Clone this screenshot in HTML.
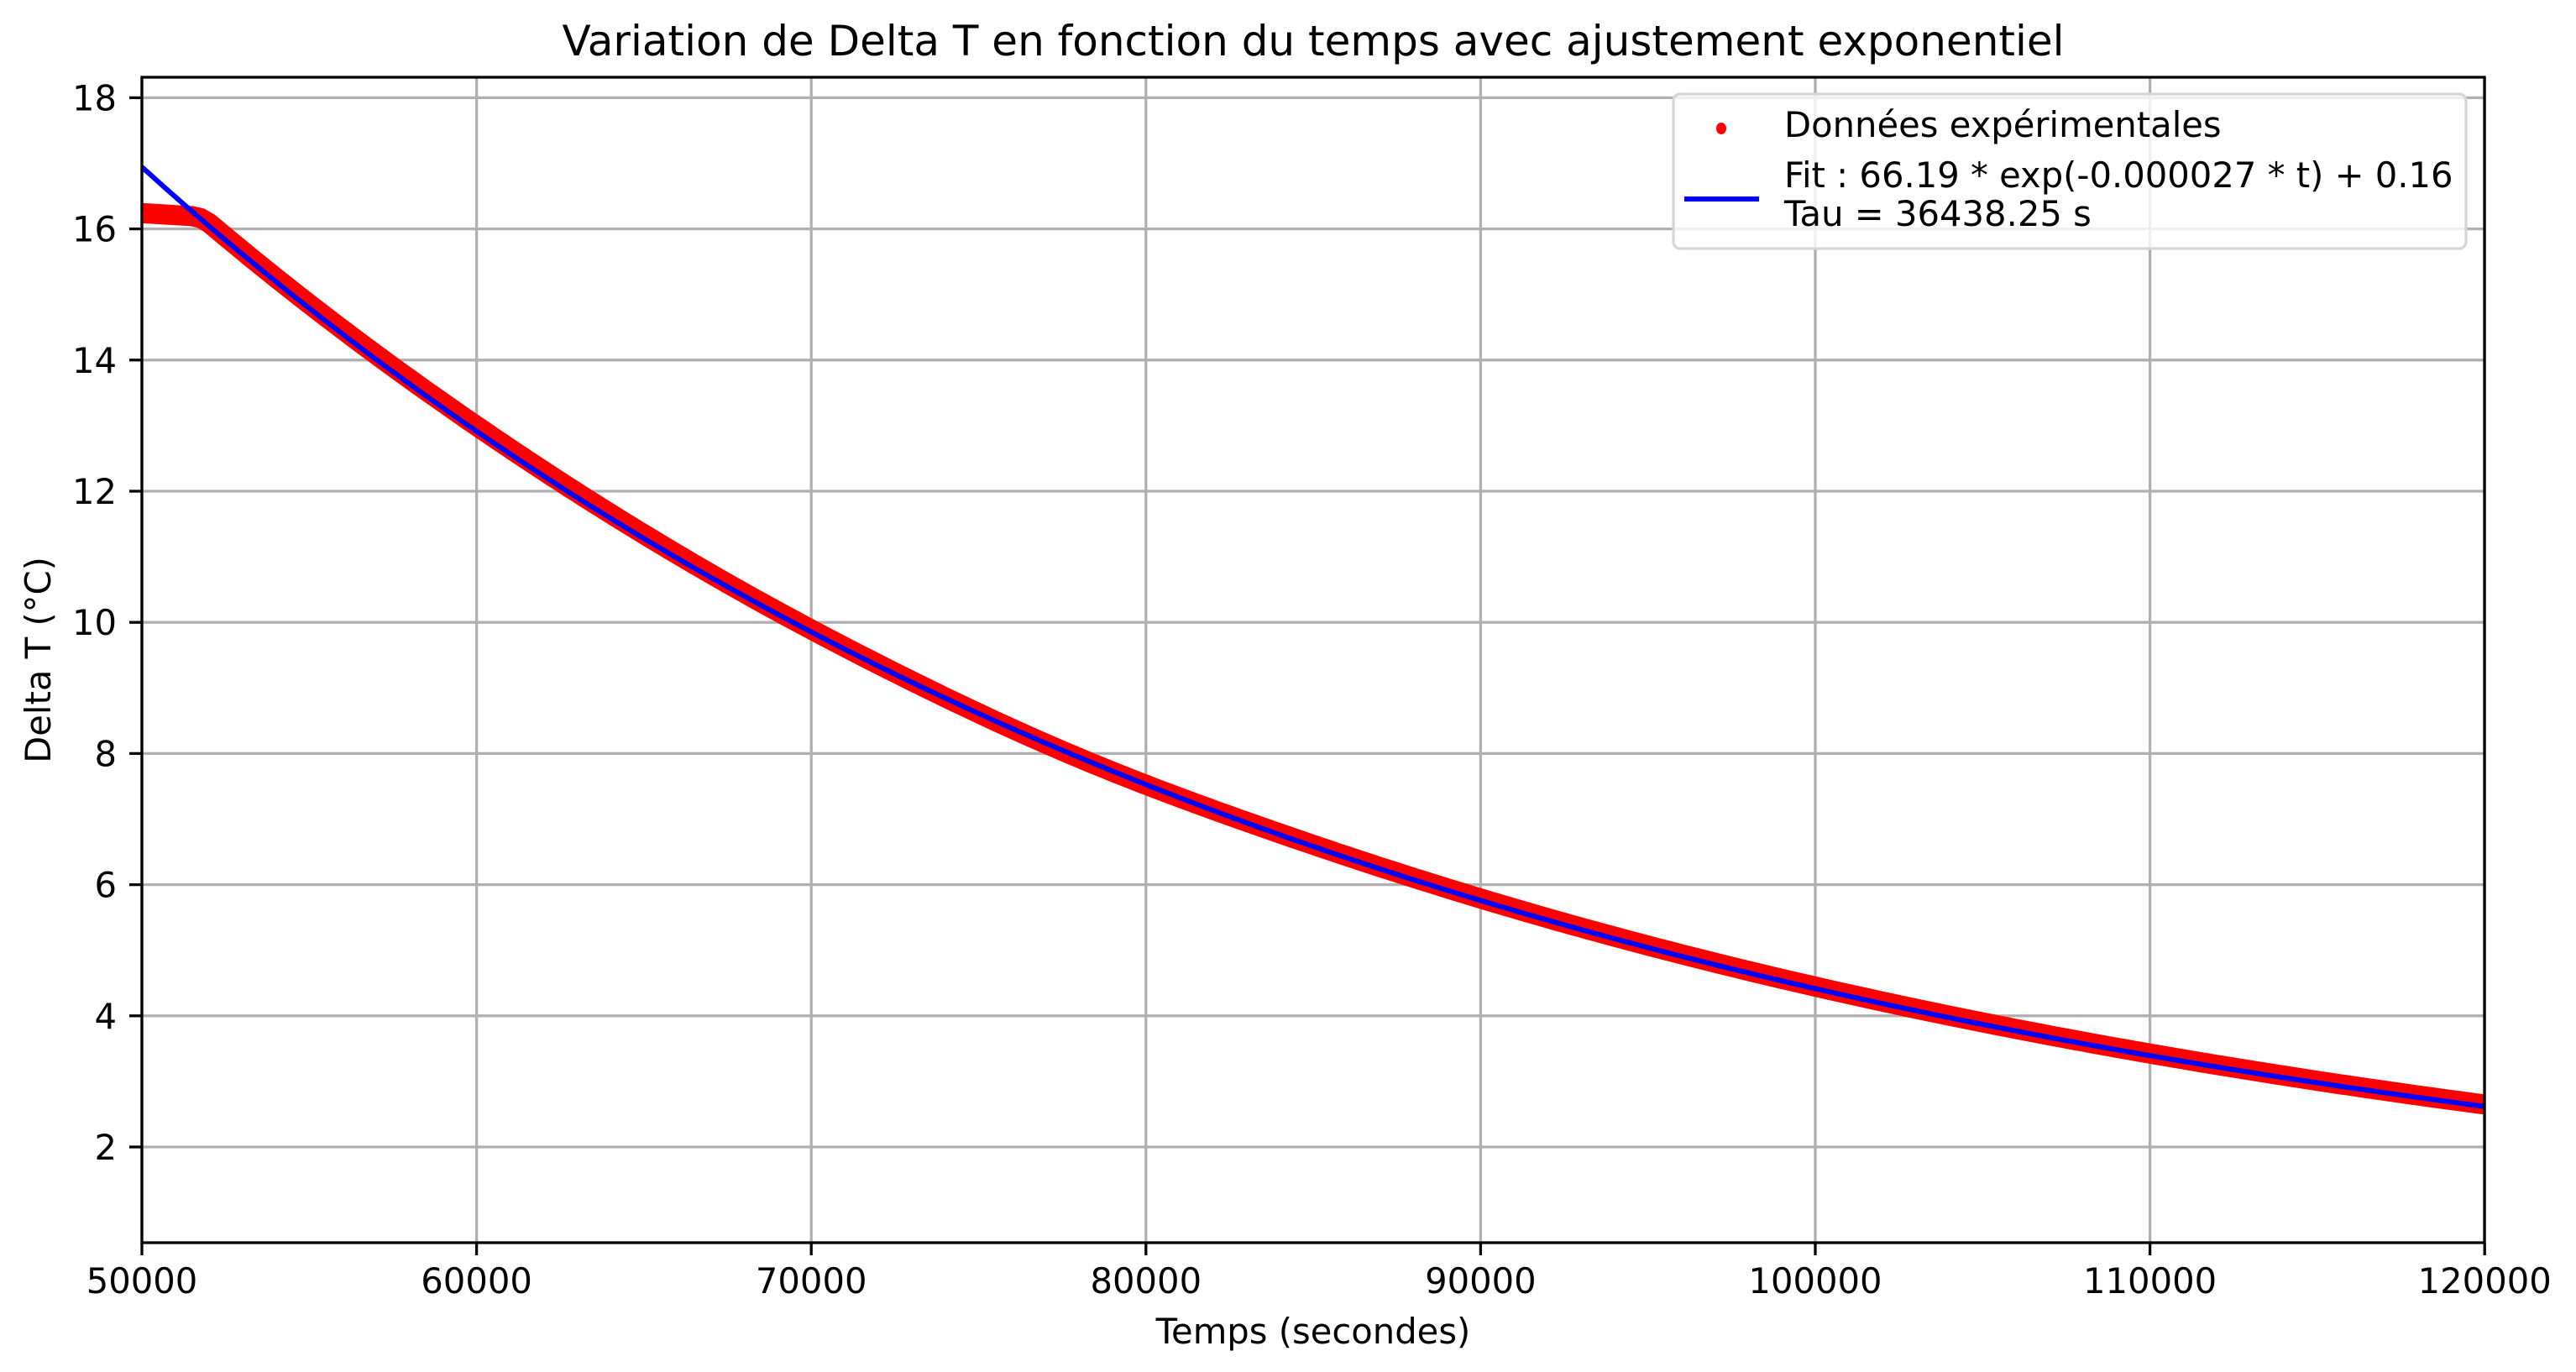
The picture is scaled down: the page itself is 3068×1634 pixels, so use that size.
<!DOCTYPE html>
<html><head><meta charset="utf-8"><style>
html,body{margin:0;padding:0;background:#fff;}
svg{display:block;font-family:"DejaVu Sans","Liberation Sans",sans-serif;}
</style></head><body>
<svg id="s" width="3068" height="1634" viewBox="0 0 3068 1634" xmlns="http://www.w3.org/2000/svg">
<rect width="3068" height="1634" fill="#fff"/>
<g id="grid" stroke="#b0b0b0" stroke-width="3.3"></g>
<g id="data"></g>
<rect x="169" y="92" width="2790" height="1388" fill="none" stroke="#000" stroke-width="3.3"/>
<g id="ticks" stroke="#000" stroke-width="3.3"></g>
<g id="labels" font-size="41.7" fill="#000"></g>
<text x="1564" y="66" font-size="50" text-anchor="middle">Variation de Delta T en fonction du temps avec ajustement exponentiel</text>
<text x="1564" y="1600" font-size="41.7" text-anchor="middle">Temps (secondes)</text>
<text transform="translate(60,786) rotate(-90)" font-size="41.7" text-anchor="middle">Delta T (°C)</text>
<g>
<rect x="1993" y="112" width="944" height="184" rx="8" fill="#fff" fill-opacity="0.8" stroke="#d6d6d6" stroke-width="3.3"/>
<ellipse cx="2050" cy="153" rx="6" ry="7" fill="#f00"/>
<line x1="2006" y1="237" x2="2095" y2="237" stroke="#00f" stroke-width="6"/>
<text x="2125" y="163" font-size="41.7">Données expérimentales</text>
<text x="2125" y="223" font-size="41.7">Fit : 66.19 * exp(-0.000027 * t) + 0.16</text>
<text x="2125" y="269" font-size="41.7">Tau = 36438.25 s</text>
</g>
</svg>
<script>
var NS="http://www.w3.org/2000/svg";
function X(t){return 169+(t-50000)*0.03986;}
function Y(v){return 1366-(v-2)*78.1;}
function el(p,tag,a,txt){var e=document.createElementNS(NS,tag);for(var k in a)e.setAttribute(k,a[k]);if(txt)e.textContent=txt;p.appendChild(e);return e;}
var g=document.getElementById('grid'),tk=document.getElementById('ticks'),lb=document.getElementById('labels');
for(var t=50000;t<=120000;t+=10000){var x=X(t);el(g,'line',{x1:x,y1:92,x2:x,y2:1480});el(tk,'line',{x1:x,y1:1480,x2:x,y2:1495});el(lb,'text',{x:x,y:1540,'text-anchor':'middle'},String(t));}
for(var v=2;v<=18;v+=2){var y=Y(v);el(g,'line',{x1:169,y1:y,x2:2959,y2:y});el(tk,'line',{x1:154,y1:y,x2:169,y2:y});el(lb,'text',{x:139,y:y+15,'text-anchor':'end'},String(v));}
function fit(t){return 66.19*Math.exp(-t/36438.25)+0.16;}
var d=document.getElementById('data');
var pts=[],fp=[];
for(var t=50000;t<=120000;t+=250){
  var f=fit(t);
  var off=0.05*Math.exp(-Math.pow((t-60000)/8000,2))-0.04*Math.exp(-Math.pow((t-78000)/5000,2))+0.03;
  var a=f+off;
  var flat=16.24-(t-50000)*0.00003;
  // smooth min
  var k=0.12, h=Math.max(k-Math.abs(a-flat),0)/k;
  var o=Math.min(a,flat)-h*h*k*0.25;
  pts.push(X(t).toFixed(1)+','+Y(o).toFixed(1));
  fp.push(X(t).toFixed(1)+','+Y(f).toFixed(1));
}
el(d,'polyline',{points:pts.join(' '),fill:'none',stroke:'#f00','stroke-width':24,'stroke-linejoin':'round','stroke-linecap':'butt'});
el(d,'polyline',{points:fp.join(' '),fill:'none',stroke:'#00f','stroke-width':6});
</script>
</body></html>
